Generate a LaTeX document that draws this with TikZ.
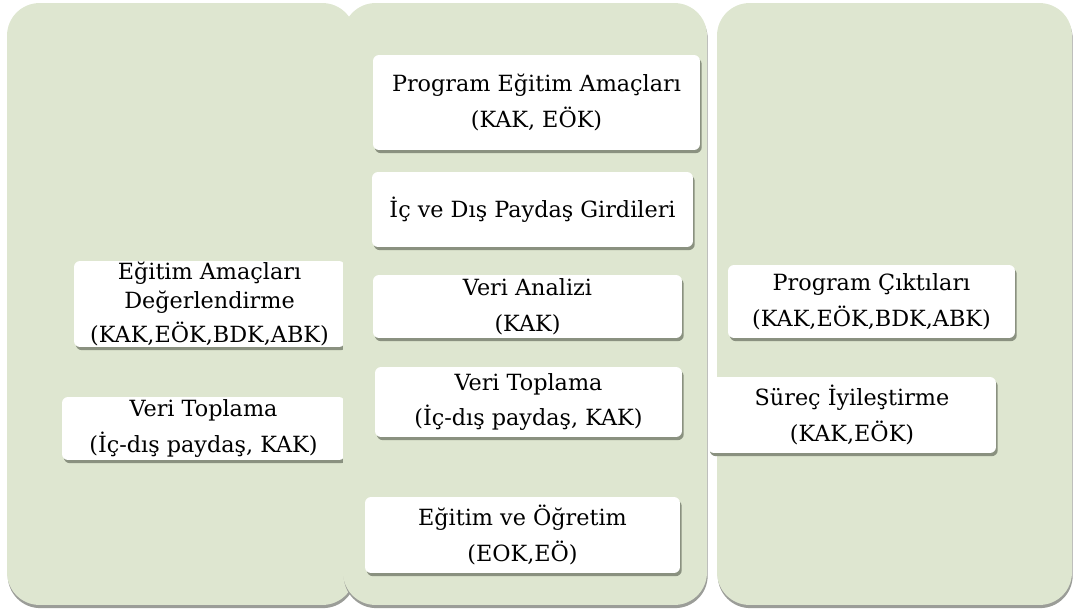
\documentclass[tikz,border=0pt]{standalone}
\usepackage{fontspec}
\setmainfont{DejaVu Serif}
\usepackage{tikz}
\usetikzlibrary{
    positioning,
    shadows
}
\usepackage{xcolor}
\definecolor{panelgreen}{RGB}{222,230,208}
\definecolor{panelshade}{RGB}{155,157,152}
\definecolor{boxshade}{RGB}{138,145,128}

\begin{document}
\begin{tikzpicture}[
    x=0.02cm, y=-0.02cm,
    panel/.style={rectangle, rounded corners=0.65cm, fill=panelgreen, minimum height=12.04cm, minimum width=#1,
        drop shadow={shadow xshift=0.4pt, shadow yshift=-1.8pt, fill=panelshade, opacity=1}},
    box/.style={rectangle, rounded corners=0.12cm, fill=white, align=center, inner sep=0pt,
        font=\fontsize{12.7pt}{20.4pt}\selectfont,
        drop shadow={shadow xshift=1pt, shadow yshift=-1.8pt, fill=boxshade, opacity=1}}
]
\useasboundingbox (0,0) rectangle (1075,611);

% Left panel: evaluation
\node[panel=6.96cm] (leftpanel) at (181,304) {};
\node[box, minimum width=5.42cm, minimum height=1.72cm, font=\fontsize{12.7pt}{16.4pt}\selectfont] (edam) at (209.5,304)
    {Eğitim Amaçları\\Değerlendirme\\[3.4pt](KAK,EÖK,BDK,ABK)};
\node[box, minimum width=5.66cm, minimum height=1.26cm] (ltopla) at (203.5,428.5)
    {Veri Toplama\\(İç-dış paydaş, KAK)};

% Right panel (drawn before middle one)
\node[panel=7.1cm] (rightpanel) at (894.5,304) {};

% Middle panel: program cycle
\node[panel=7.28cm] (midpanel) at (525,304) {};
\node[box, minimum width=6.54cm, minimum height=1.9cm] (pea) at (536.5,102.5)
    {Program Eğitim Amaçları\\(KAK, EÖK)};
\node[box, minimum width=6.42cm, minimum height=1.5cm] (girdi) at (532.5,209.5)
    {İç ve Dış Paydaş Girdileri};
\node[box, minimum width=6.18cm, minimum height=1.26cm] (analiz) at (527.5,306.5)
    {Veri Analizi\\(KAK)};
\node[box, minimum width=6.14cm, minimum height=1.4cm] (mtopla) at (528.5,402)
    {Veri Toplama\\(İç-dış paydaş, KAK)};
\node[box, minimum width=6.3cm, minimum height=1.52cm] (egitim) at (522.5,535)
    {Eğitim ve Öğretim\\(EOK,EÖ)};

% Right panel: outcomes
\node[box, minimum width=5.74cm, minimum height=1.46cm] (cikti) at (871.5,301.5)
    {Program Çıktıları\\(KAK,EÖK,BDK,ABK)};
\node[box, minimum width=5.76cm, minimum height=1.52cm] (surec) at (852,415)
    {Süreç İyileştirme\\(KAK,EÖK)};

\end{tikzpicture}
\end{document}
